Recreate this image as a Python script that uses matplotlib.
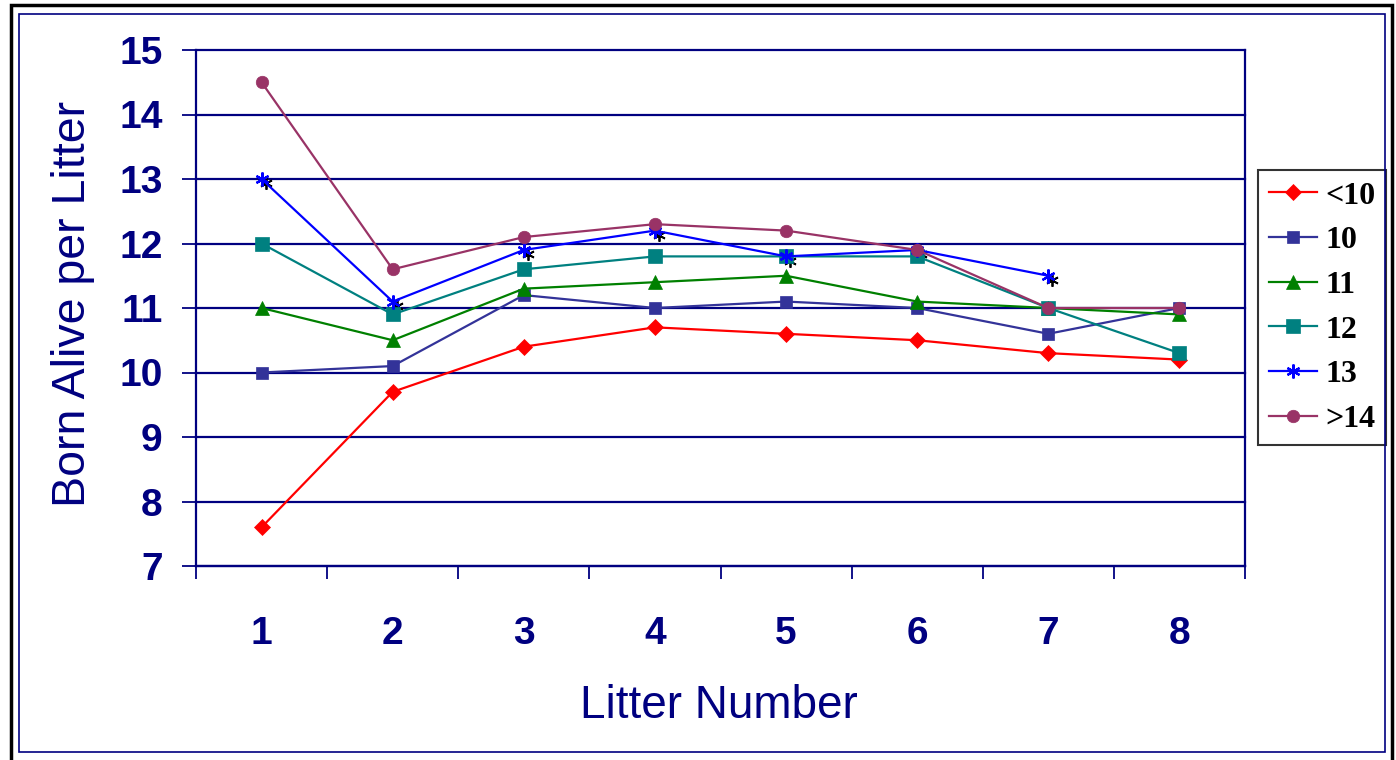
import matplotlib
matplotlib.use("Agg")
import matplotlib.pyplot as plt
import matplotlib.transforms as mtransforms
from matplotlib.patches import Rectangle

# data
litters = [1, 2, 3, 4, 5, 6, 7, 8]
groups = ["<10", "10", "11", "12", "13", ">14"]
lt10 = [7.6, 9.7, 10.4, 10.7, 10.6, 10.5, 10.3, 10.2]
g10 = [10.0, 10.1, 11.2, 11.0, 11.1, 11.0, 10.6, 11.0]
g11 = [11.0, 10.5, 11.3, 11.4, 11.5, 11.1, 11.0, 10.9]
g12 = [12.0, 10.9, 11.6, 11.8, 11.8, 11.8, 11.0, 10.3]
g13 = [13.0, 11.1, 11.9, 12.2, 11.8, 11.9, 11.5]
gt14 = [14.5, 11.6, 12.1, 12.3, 12.2, 11.9, 11.0, 11.0]
yticks = [7, 8, 9, 10, 11, 12, 13, 14, 15]

navy = "#000080"
series = [lt10, g10, g11, g12, g13, gt14]
colors = ["#FF0000", "#333399", "#008000", "#008080", "#0000FF", "#993366"]
markers = ["D", "s", "^", "s", (6, 2, 0), "o"]
msizes = [8.5, 8.5, 9.5, 10, 10, 9]

fig = plt.figure(figsize=(13.96, 7.6), dpi=100)
ax = fig.add_axes([196 / 1396, 1 - 566 / 760, 1049 / 1396, 516 / 760])

for i in range(len(series)):
    ys = series[i]
    xs = litters[:len(ys)]
    if groups[i] == "13":
        # excel's star marker leaves a black shadow next to the blue one
        tr = mtransforms.offset_copy(ax.transData, fig=fig, x=3, y=-3, units="points")
        ax.plot(xs, ys, linestyle="none", marker=(6, 2, 0), markersize=9,
                markeredgecolor="black", markeredgewidth=1.3, transform=tr, zorder=3)
    ax.plot(xs, ys, color=colors[i], linewidth=1.6, marker=markers[i],
            markersize=msizes[i], markerfacecolor=colors[i], markeredgecolor=colors[i],
            markeredgewidth=1.6 if groups[i] == "13" else 0.5, label=groups[i], zorder=4)

ax.set_xlim(0.5, 8.5)
ax.set_ylim(7, 15)
ax.set_yticks(yticks)
ax.set_xticks(litters)
ax.set_xticks([x + 0.5 for x in range(0, 9)], minor=True)
ax.yaxis.grid(True, color=navy, linewidth=1.6)
for gl in ax.get_ygridlines():
    gl.set_clip_on(False)
ax.set_axisbelow(True)

for s in ax.spines.values():
    s.set_color(navy)
    s.set_linewidth(1.6)
ax.spines["top"].set_visible(False)

ax.tick_params(axis="y", colors=navy, length=10, width=1.3, pad=14, labelsize=28)
ax.tick_params(axis="x", which="major", colors=navy, length=0, pad=36, labelsize=28)
ax.tick_params(axis="x", which="minor", colors=navy, length=9, width=1.3)
for lab in ax.get_xticklabels() + ax.get_yticklabels():
    lab.set_fontfamily("Liberation Sans")
    lab.set_fontweight("bold")

fig.text(0.052, 0.6, "Born Alive per Litter", rotation=90, ha="center", va="center",
         fontsize=33.5, color=navy, family="Liberation Sans")
fig.text(0.515, 0.071, "Litter Number", ha="center", va="center",
         fontsize=33, color=navy, family="Liberation Sans")

leg = ax.legend(loc="upper left", bbox_to_anchor=(1258 / 1396, 1 - 170 / 760),
                bbox_transform=fig.transFigure, frameon=True, fancybox=False,
                prop={"family": "Liberation Serif", "weight": "bold", "size": 23},
                handlelength=1.5, handletextpad=0.25, labelspacing=0.48,
                borderpad=0.35, borderaxespad=0)
leg.get_frame().set_edgecolor("black")
leg.get_frame().set_linewidth(1.5)

# outer frames
fig.patches.append(Rectangle((11 / 1396, -0.01), 1381 / 1396, 1 - 5 / 760 + 0.01,
                             transform=fig.transFigure, fill=False,
                             edgecolor="black", linewidth=2.5))
fig.patches.append(Rectangle((19 / 1396, 1 - 752 / 760), 1366 / 1396, 738 / 760,
                             transform=fig.transFigure, fill=False,
                             edgecolor=navy, linewidth=1.2))

fig.savefig("out.png", dpi=100)
